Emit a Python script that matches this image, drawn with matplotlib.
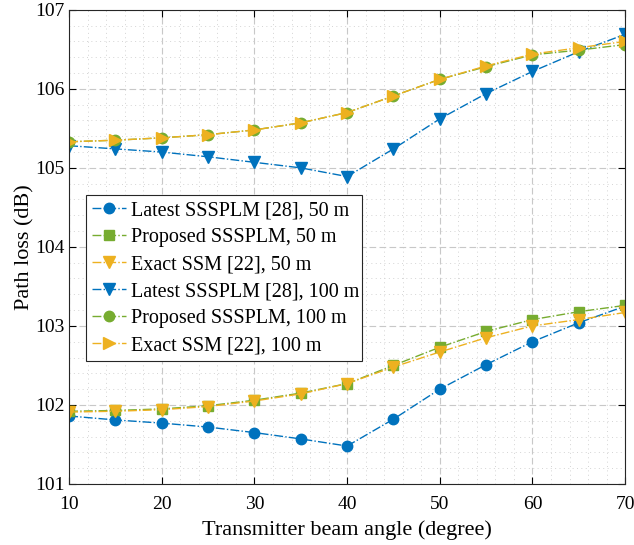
import matplotlib
matplotlib.use("Agg")
import matplotlib.pyplot as plt
import numpy as np
from matplotlib.ticker import MultipleLocator

plt.rcParams['font.family'] = ['Liberation Serif', 'DejaVu Serif']
plt.rcParams['mathtext.fontset'] = 'stix'

# beam angles (degree)
angle = [10, 15, 20, 25, 30, 35, 40, 45, 50, 55, 60, 65, 70]

# 50 m
latest_50 = [101.86, 101.81, 101.77, 101.72, 101.65, 101.57, 101.48, 101.82, 102.20, 102.51, 102.80, 103.04, 103.25]
proposed_50 = [101.92, 101.93, 101.95, 101.99, 102.06, 102.15, 102.27, 102.50, 102.73, 102.93, 103.08, 103.18, 103.26]
exact_50 = [101.91, 101.92, 101.94, 101.98, 102.05, 102.14, 102.27, 102.48, 102.67, 102.85, 103.00, 103.08, 103.17]

# 100 m
latest_100 = [105.28, 105.24, 105.20, 105.14, 105.07, 105.00, 104.89, 105.24, 105.62, 105.94, 106.22, 106.47, 106.69]
proposed_100 = [105.33, 105.35, 105.38, 105.42, 105.48, 105.57, 105.70, 105.91, 106.12, 106.28, 106.43, 106.49, 106.56]
exact_100 = [105.33, 105.35, 105.38, 105.42, 105.48, 105.57, 105.70, 105.91, 106.12, 106.29, 106.44, 106.52, 106.60]

blue = '#0072BD'
green = '#77AC30'
yellow = '#EDB120'

fig = plt.figure(figsize=(6.34, 5.45), dpi=100)
ax = fig.add_axes([0.109, 0.112, 0.877, 0.870])

ax.plot(angle, latest_50, '-.', color=blue, marker='o', ms=7.5, lw=1, label='Latest SSSPLM [28], 50 m')
ax.plot(angle, proposed_50, '-.', color=green, marker='s', ms=6.5, lw=1, label='Proposed SSSPLM, 50 m')
ax.plot(angle, exact_50, '-.', color=yellow, marker='v', ms=9, lw=1, label='Exact SSM [22], 50 m')
ax.plot(angle, latest_100, '-.', color=blue, marker='v', ms=9, lw=1, label='Latest SSSPLM [28], 100 m')
ax.plot(angle, proposed_100, '-.', color=green, marker='o', ms=7.5, lw=1, label='Proposed SSSPLM, 100 m')
ax.plot(angle, exact_100, '-.', color=yellow, marker='>', ms=9, lw=1, label='Exact SSM [22], 100 m')

ax.set_xlim(10, 70)
ax.set_ylim(101, 107)
ax.xaxis.set_major_locator(MultipleLocator(10))
ax.xaxis.set_minor_locator(MultipleLocator(2))
ax.yaxis.set_major_locator(MultipleLocator(1))
ax.yaxis.set_minor_locator(MultipleLocator(0.2))
ax.grid(which='major', ls=(0, (6, 3)), color='#c8c8c8', lw=0.8)
ax.grid(which='minor', ls=(0, (1, 3.5)), color='#d4d4d4', lw=0.7)
ax.set_axisbelow(True)
ax.tick_params(which='both', direction='in', top=True, right=True, labelsize=14)
ax.tick_params(which='minor', length=0)
ax.tick_params(which='major', length=5)
ax.tick_params(axis='x', pad=9)
for s in ax.spines.values():
    s.set_linewidth(0.8)
    s.set_color('#262626')

ax.set_xlabel('Transmitter beam angle (degree)', fontsize=16, labelpad=5)
ax.set_ylabel('Path loss (dB)', fontsize=16, labelpad=0)

leg = ax.legend(loc='lower left', bbox_to_anchor=(0.031, 0.259, 0.496, 0.345), mode='expand',
                fontsize=14.5, frameon=True, fancybox=False, edgecolor='#262626', framealpha=1,
                handlelength=1.65, handletextpad=0.25, borderpad=0.3, labelspacing=0.39,
                borderaxespad=0)
leg.get_frame().set_linewidth(0.8)

fig.savefig('out.png', dpi=100)
